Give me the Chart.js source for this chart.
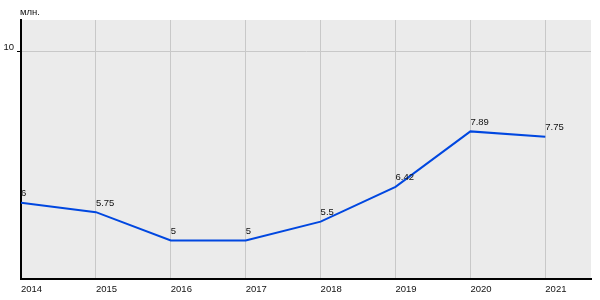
<!DOCTYPE html>
<html>
<head>
<meta charset="utf-8">
<script src="https://cdn.jsdelivr.net/npm/chart.js@4/dist/chart.umd.min.js"></script>
<style>
  html, body { margin: 0; padding: 0; background: #fff; }
  #wrap { width: 600px; height: 300px; }
</style>
</head>
<body>
<div id="wrap"><canvas id="grafico"></canvas></div>
<script>
// dati del grafico
const anni = [2014, 2015, 2016, 2017, 2018, 2019, 2020, 2021];
const valori = [6, 5.75, 5, 5, 5.5, 6.42, 7.89, 7.75];
const etichette = ["6", "5.75", "5", "5", "5.5", "6.42", "7.89", "7.75"];
const tickY = [10];
const unita = "млн.";

const FONT = "Liberation Sans, Arial, sans-serif";
const SIZE = 9.5;
const COLORE_TESTO = "#111";

// sfondo grigio dell'area del grafico
const sfondo = {
  id: "sfondo",
  beforeDraw(chart) {
    const { ctx, chartArea: a } = chart;
    ctx.save();
    ctx.fillStyle = "#ebebeb";
    ctx.fillRect(a.left, a.top, a.right - a.left, a.bottom - a.top);
    ctx.restore();
  }
};

// etichette sopra i punti + unita di misura
const testi = {
  id: "testi",
  afterDatasetsDraw(chart) {
    const { ctx, chartArea: a } = chart;
    const meta = chart.getDatasetMeta(0);
    ctx.save();
    ctx.font = SIZE + "px " + FONT;
    ctx.fillStyle = COLORE_TESTO;
    ctx.textAlign = "left";
    ctx.textBaseline = "alphabetic";
    meta.data.forEach((p, i) => {
      ctx.fillText(etichette[i], p.x, p.y - 6.5);
    });
    ctx.fillText(unita, a.left - 1, a.top - 5);
    ctx.restore();
  }
};

window.onload = () => {
  const punti = anni.map((a, i) => ({ x: a, y: valori[i] }));
  new Chart(document.getElementById("grafico"), {
    type: "line",
    data: {
      datasets: [{
        data: punti,
        borderColor: "#0047e0",
        borderWidth: 2,
        pointRadius: 0,
        tension: 0,
        fill: false
      }]
    },
    options: {
      responsive: true,
      maintainAspectRatio: false,
      animation: false,
      layout: { padding: { top: 20, right: 9, left: 0, bottom: 0 } },
      plugins: { legend: { display: false }, tooltip: { enabled: false } },
      scales: {
        x: {
          type: "linear",
          min: 2014,
          max: 2021.61,
          afterBuildTicks: (s) => { s.ticks = anni.map(v => ({ value: v })); },
          afterFit: (s) => { s.height = 21; },
          grid: { color: "#c8c8c8", lineWidth: 1, drawTicks: false },
          border: { color: "#000", width: 2 },
          ticks: {
            align: "start",
            padding: 5,
            color: COLORE_TESTO,
            font: { family: FONT, size: SIZE },
            callback: (v) => String(v)
          }
        },
        y: {
          min: 3.98,
          max: 10.84,
          afterBuildTicks: (s) => { s.ticks = tickY.map(v => ({ value: v })); },
          afterFit: (s) => { s.width = 21; },
          grid: { color: "#c8c8c8", lineWidth: 1, tickColor: "#000", tickLength: 4 },
          border: { color: "#000", width: 2 },
          ticks: {
            padding: 3,
            labelOffset: -4,
            color: COLORE_TESTO,
            font: { family: FONT, size: SIZE },
            callback: (v) => String(v)
          }
        }
      }
    },
    plugins: [sfondo, testi]
  });
};
</script>
</body>
</html>
